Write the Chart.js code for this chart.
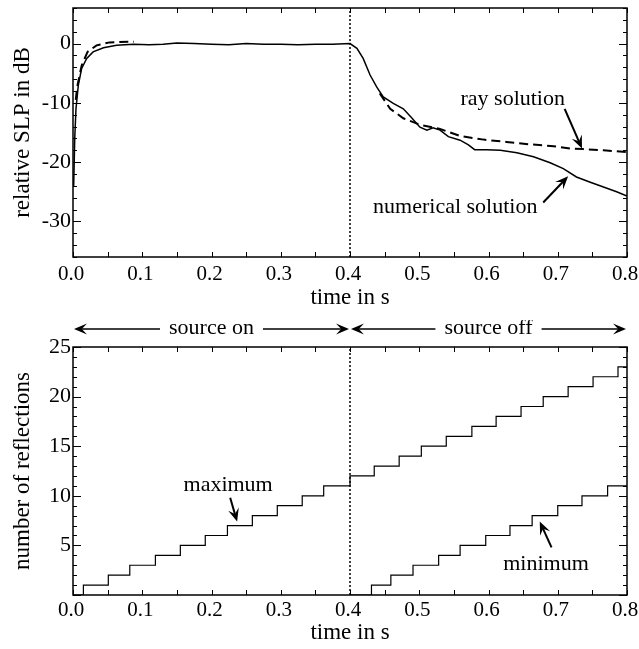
<!DOCTYPE html>
<html>
<head>
<meta charset="utf-8">
<script src="https://cdn.jsdelivr.net/npm/chart.js@4.4.0/dist/chart.umd.min.js"></script>
<style>
  body { margin: 0; background: #fff; }
  #wrap { position: relative; width: 639px; height: 649px; }
  canvas { position: absolute; left: 0; }
</style>
</head>
<body>
<div id="wrap">
  <canvas id="topChart" width="639" height="320" style="top:0"></canvas>
  <canvas id="bottomChart" width="639" height="329" style="top:320px"></canvas>
</div>
<script>
// values
var timeTicks = [0, 0.1, 0.2, 0.3, 0.4, 0.5, 0.6, 0.7, 0.8];
var levelTicks = [-30, -20, -10, 0];
var countTicks = [5, 10, 15, 20, 25];
var switchOff = 0.4;

// numerical solution (solid)
var numTime = [0, 0.001, 0.0025, 0.0043, 0.0077, 0.0125, 0.0198, 0.029, 0.044, 0.063, 0.087, 0.11, 0.13, 0.15,
  0.175, 0.2, 0.225, 0.25, 0.275, 0.3, 0.325, 0.35, 0.375, 0.4, 0.41, 0.419, 0.429, 0.4385, 0.448, 0.4625,
  0.477, 0.489, 0.501, 0.511, 0.52, 0.53, 0.542, 0.559, 0.571, 0.58, 0.597, 0.617, 0.641, 0.665, 0.689,
  0.708, 0.727, 0.747, 0.766, 0.785, 0.8];
var numLevel = [-24, -23.9, -16, -11, -7.0, -4.2, -2.5, -1.4, -0.7, -0.3, -0.1, -0.2, -0.1, 0.1,
  0.0, -0.1, -0.2, 0.0, -0.1, -0.1, -0.2, -0.1, -0.1, 0.0, -0.8, -2.5, -5.3, -7.3, -9.0, -10.1,
  -11.0, -12.5, -14.1, -14.6, -14.2, -14.6, -15.7, -16.3, -17.1, -17.9, -17.9, -18.0, -18.4, -19.1, -20.1,
  -21.1, -22.5, -23.4, -24.2, -25.0, -25.7];

// ray solution (dashed)
var rayTime = [0.004, 0.006, 0.0125, 0.021, 0.034, 0.053, 0.08, 0.088, 0.2, 0.443, 0.458, 0.477, 0.501,
  0.53, 0.559, 0.593, 0.626, 0.66, 0.694, 0.718, 0.737, 0.766, 0.8];
var rayLevel = [-9.5, -7.3, -3.7, -1.4, -0.3, 0.2, 0.3, 0.3, null, -8.4, -11.0, -12.6, -13.7,
  -14.4, -15.6, -16.2, -16.6, -17.0, -17.3, -17.7, -17.8, -18.0, -18.3];

// number of reflections
var maxTime = [0, 0.015, 0.051, 0.082, 0.119, 0.155, 0.191, 0.223, 0.259, 0.295, 0.331, 0.362, 0.4,
  0.435, 0.471, 0.503, 0.539, 0.576, 0.611, 0.647, 0.679, 0.715, 0.751, 0.787, 0.8];
var maxCount = [0, 1, 2, 3, 4, 5, 6, 7, 8, 9, 10, 11, 12, 13, 14, 15, 16, 17, 18, 19, 20, 21, 22, 23, 23];
var minTime = [0.4, 0.431, 0.459, 0.491, 0.528, 0.559, 0.596, 0.631, 0.663, 0.7, 0.735, 0.772, 0.8];
var minCount = [0, 1, 2, 3, 4, 5, 6, 7, 8, 9, 10, 11, 11];

var serif = "'Liberation Serif', 'Times New Roman', serif";

function pts(xs, ys) {
  return xs.map(function(x, i) { return { x: x, y: ys[i] }; });
}

function drawArrow(ctx, x1, y1, x2, y2, len, half) {
  var ang = Math.atan2(y2 - y1, x2 - x1);
  ctx.beginPath();
  ctx.moveTo(x1, y1);
  ctx.lineTo(x2 - Math.cos(ang) * len * 0.6, y2 - Math.sin(ang) * len * 0.6);
  ctx.stroke();
  ctx.save();
  ctx.translate(x2, y2);
  ctx.rotate(ang);
  ctx.beginPath();
  ctx.moveTo(0, 0);
  ctx.lineTo(-len, -half);
  ctx.lineTo(-len * 0.6, 0);
  ctx.lineTo(-len, half);
  ctx.closePath();
  ctx.fill();
  ctx.restore();
}

// frame with inward ticks on all four sides
function framePlugin(xStep, yStep, yMajorEvery) {
  return {
    id: 'frame',
    afterDraw: function(chart) {
      var ctx = chart.ctx, a = chart.chartArea, x = chart.scales.x, y = chart.scales.y;
      ctx.save();
      ctx.strokeStyle = '#000';
      ctx.lineWidth = 1;
      ctx.beginPath();
      var n = Math.round((x.max - x.min) / xStep);
      for (var i = 0; i <= n; i++) {
        var px = Math.round(x.getPixelForValue(x.min + i * xStep)) + 0.5;
        ctx.moveTo(px, a.bottom); ctx.lineTo(px, a.bottom - 5);
        ctx.moveTo(px, a.top); ctx.lineTo(px, a.top + 5);
      }
      var m = Math.round((y.max - y.min) / yStep);
      for (var j = 0; j <= m; j++) {
        var v = y.min + j * yStep;
        var major = Math.abs(v / yMajorEvery - Math.round(v / yMajorEvery)) < 1e-6;
        var len = major ? 8 : 4;
        var py = Math.round(y.getPixelForValue(v)) + 0.5;
        ctx.moveTo(a.left, py); ctx.lineTo(a.left + len, py);
        ctx.moveTo(a.right, py); ctx.lineTo(a.right - len, py);
      }
      ctx.stroke();
      ctx.lineWidth = 1.5;
      ctx.strokeRect(a.left, a.top, a.right - a.left, a.bottom - a.top);
      ctx.restore();
    }
  };
}

// text labels with arrows, placed in data units
function notesPlugin(notes, extra) {
  return {
    id: 'notes',
    afterDatasetsDraw: function(chart) {
      var ctx = chart.ctx, x = chart.scales.x, y = chart.scales.y;
      ctx.save();
      ctx.fillStyle = '#000';
      ctx.strokeStyle = '#000';
      ctx.font = '22px ' + serif;
      ctx.textAlign = 'center';
      ctx.textBaseline = 'alphabetic';
      notes.forEach(function(n) {
        ctx.fillText(n.text, x.getPixelForValue(n.tx), y.getPixelForValue(n.ty));
        ctx.lineWidth = 2;
        drawArrow(ctx, x.getPixelForValue(n.ax1), y.getPixelForValue(n.ay1),
          x.getPixelForValue(n.ax2), y.getPixelForValue(n.ay2), 13, 5.5);
      });
      if (extra) extra(chart, ctx);
      ctx.restore();
    }
  };
}

function baseScales(yOpts, xHeight, xPad, titlePad, yTitle) {
  return {
    x: {
      type: 'linear', min: 0, max: 0.8,
      grid: { display: false, drawTicks: false },
      border: { display: false },
      afterBuildTicks: function(s) { s.ticks = timeTicks.map(function(v) { return { value: v }; }); },
      afterFit: function(s) { s.height = xHeight; s.paddingLeft = 0; s.paddingRight = 0; },
      ticks: {
        padding: xPad, color: '#000', maxRotation: 0, autoSkip: false, labelOffset: -2,
        font: { family: serif, size: 21 },
        callback: function(v) { return Number(v).toFixed(1); }
      },
      title: { display: true, text: 'time in s', color: '#000', font: { family: serif, size: 23 }, padding: { top: 0, bottom: titlePad } }
    },
    y: Object.assign({
      grid: { display: false, drawTicks: false },
      border: { display: false },
      afterFit: function(s) { s.width = 73; s.paddingTop = 0; s.paddingBottom = 0; },
      title: { display: true, text: yTitle, color: '#000', font: { family: serif, size: 23 }, padding: { top: 9, bottom: 0 } }
    }, yOpts)
  };
}

new Chart(document.getElementById('topChart'), {
  type: 'line',
  data: {
    datasets: [
      { data: pts(numTime, numLevel), borderColor: '#000', borderWidth: 1.5, pointRadius: 0, tension: 0 },
      { data: pts(rayTime, rayLevel), borderColor: '#000', borderWidth: 2, borderDash: [9, 5], pointRadius: 0, tension: 0, spanGaps: false },
      { data: [{ x: switchOff, y: -36 }, { x: switchOff, y: 6 }], borderColor: '#000', borderWidth: 1.5, borderDash: [2, 2], pointRadius: 0 }
    ]
  },
  options: {
    responsive: false,
    animation: false,
    layout: { padding: { top: 8, right: 12, left: 0, bottom: 0 } },
    plugins: { legend: { display: false }, tooltip: { enabled: false } },
    scales: baseScales({
      min: -36, max: 6,
      afterBuildTicks: function(s) { s.ticks = levelTicks.map(function(v) { return { value: v }; }); },
      ticks: { padding: 2, color: '#000', font: { family: serif, size: 22 } }
    }, 63, 5, 8, 'relative SLP in dB')
  },
  plugins: [
    framePlugin(0.05, 2, 10),
    notesPlugin([
      { text: 'ray solution', tx: 0.635, ty: -10.4, ax1: 0.71, ay1: -11.0, ax2: 0.735, ay2: -17.7 },
      { text: 'numerical solution', tx: 0.552, ty: -28.5, ax1: 0.679, ay1: -26.8, ax2: 0.715, ay2: -22.4 }
    ])
  ]
});

function sourceArrows(chart, ctx) {
  var x = chart.scales.x, a = chart.chartArea;
  var py = a.top - 18;
  ctx.font = '22px ' + serif;
  ctx.textBaseline = 'middle';
  ctx.lineWidth = 1.5;
  [[0, switchOff, 'source on'], [switchOff, 0.8, 'source off']].forEach(function(s) {
    var l = x.getPixelForValue(s[0]), r = x.getPixelForValue(s[1]);
    var c = (l + r) / 2, w = ctx.measureText(s[2]).width / 2 + 9;
    ctx.fillText(s[2], c, py - 1);
    drawArrow(ctx, c - w, py, l + 1, py, 13, 5.5);
    drawArrow(ctx, c + w, py, r - 1, py, 13, 5.5);
  });
}

new Chart(document.getElementById('bottomChart'), {
  type: 'line',
  data: {
    datasets: [
      { data: pts(maxTime, maxCount), borderColor: '#000', borderWidth: 1.2, pointRadius: 0, stepped: 'before' },
      { data: pts(minTime, minCount), borderColor: '#000', borderWidth: 1.2, pointRadius: 0, stepped: 'before' },
      { data: [{ x: switchOff, y: 0 }, { x: switchOff, y: 25 }], borderColor: '#000', borderWidth: 1.5, borderDash: [2, 2], pointRadius: 0 }
    ]
  },
  options: {
    responsive: false,
    animation: false,
    layout: { padding: { top: 27, right: 12, left: 0, bottom: 0 } },
    plugins: { legend: { display: false }, tooltip: { enabled: false } },
    scales: baseScales({
      min: 0, max: 25,
      afterBuildTicks: function(s) { s.ticks = countTicks.map(function(v) { return { value: v }; }); },
      ticks: { padding: 2, color: '#000', font: { family: serif, size: 22 } }
    }, 54, 3, 2, 'number of reflections')
  },
  plugins: [
    framePlugin(0.05, 1, 5),
    notesPlugin([
      { text: 'maximum', tx: 0.224, ty: 10.5, ax1: 0.227, ay1: 9.8, ax2: 0.237, ay2: 7.4 },
      { text: 'minimum', tx: 0.683, ty: 2.5, ax1: 0.691, ay1: 4.8, ax2: 0.674, ay2: 7.4 }
    ], sourceArrows)
  ]
});
</script>
</body>
</html>
